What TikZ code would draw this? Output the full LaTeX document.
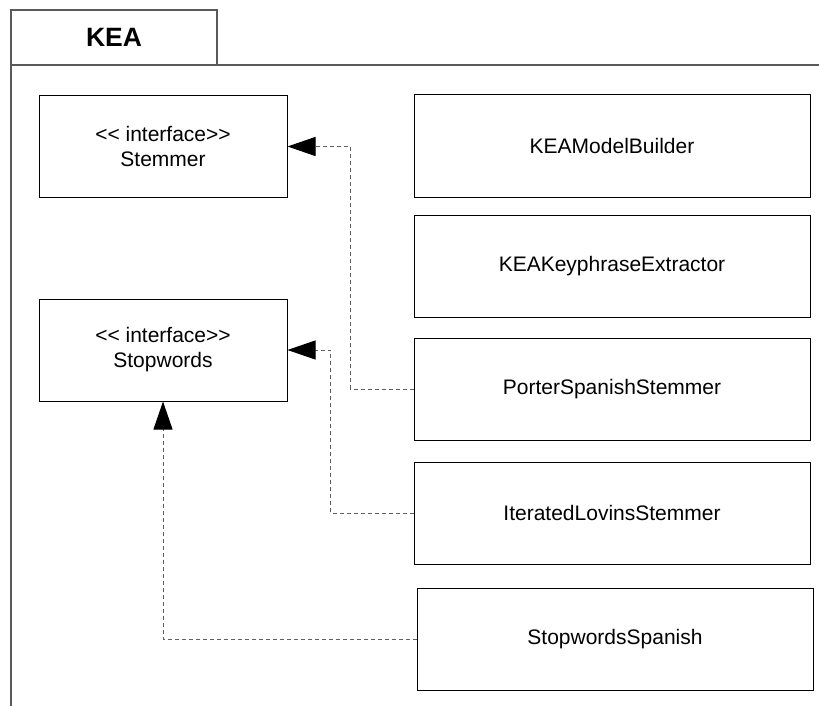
\documentclass[tikz,border=0pt]{standalone}
\usepackage{fontspec}
\setmainfont{Liberation Sans}
\usetikzlibrary{arrows.meta}
\definecolor{framegray}{HTML}{5A5A5A}
\definecolor{dashgray}{HTML}{606060}
\begin{document}
\begin{tikzpicture}[x=1pt,y=-1pt,
  classbox/.style={draw=black,line width=1pt,minimum width=248pt,minimum height=102pt,
    align=center,inner sep=0pt,font=\fontsize{21}{25}\selectfont},
  implbox/.style={classbox,minimum width=396pt},
  realizes/.style={draw=dashgray,line width=1pt,dash pattern=on 4pt off 3pt,
    -{Triangle[length=28pt,width=19pt,fill=black,color=black]}}]
\useasboundingbox (0,0) rectangle (819,706);
\fill[white] (0,0) rectangle (819,706);

% package frame with its name tab
\node[draw=framegray,line width=1.2pt,minimum width=206pt,minimum height=55pt,inner sep=0pt,
  font=\fontsize{26.5}{30}\selectfont\bfseries] (tab) at (114,37.5) {KEA};
\draw[framegray,line width=1.2pt] (11,65) -- (819,65);
\draw[framegray,line width=1.2pt] (11,65) -- (11,706);

% interfaces
\node[classbox] (stemmer) at (163,146.5) {<{}< interface>{}>\\Stemmer};
\node[classbox] (stopw) at (163,350) {<{}< interface>{}>\\Stopwords};

% classes
\node[implbox] (builder) at (612,146) {KEAModelBuilder};
\node[implbox] (extractor) at (612,266) {KEAKeyphraseExtractor};
\node[implbox] (porter) at (612,389) {PorterSpanishStemmer};
\node[implbox] (lovins) at (612,513) {IteratedLovinsStemmer};
\node[implbox] (swspanish) at (615,639) {StopwordsSpanish};

% realization links
\draw[realizes] (porter.west) -- ++(-63,0) |- (stemmer.east);
\draw[realizes] (lovins.west) -- ++(-83,0) |- (stopw.east);
\draw[realizes] (swspanish.west) -| (stopw.south);
\end{tikzpicture}
\end{document}
